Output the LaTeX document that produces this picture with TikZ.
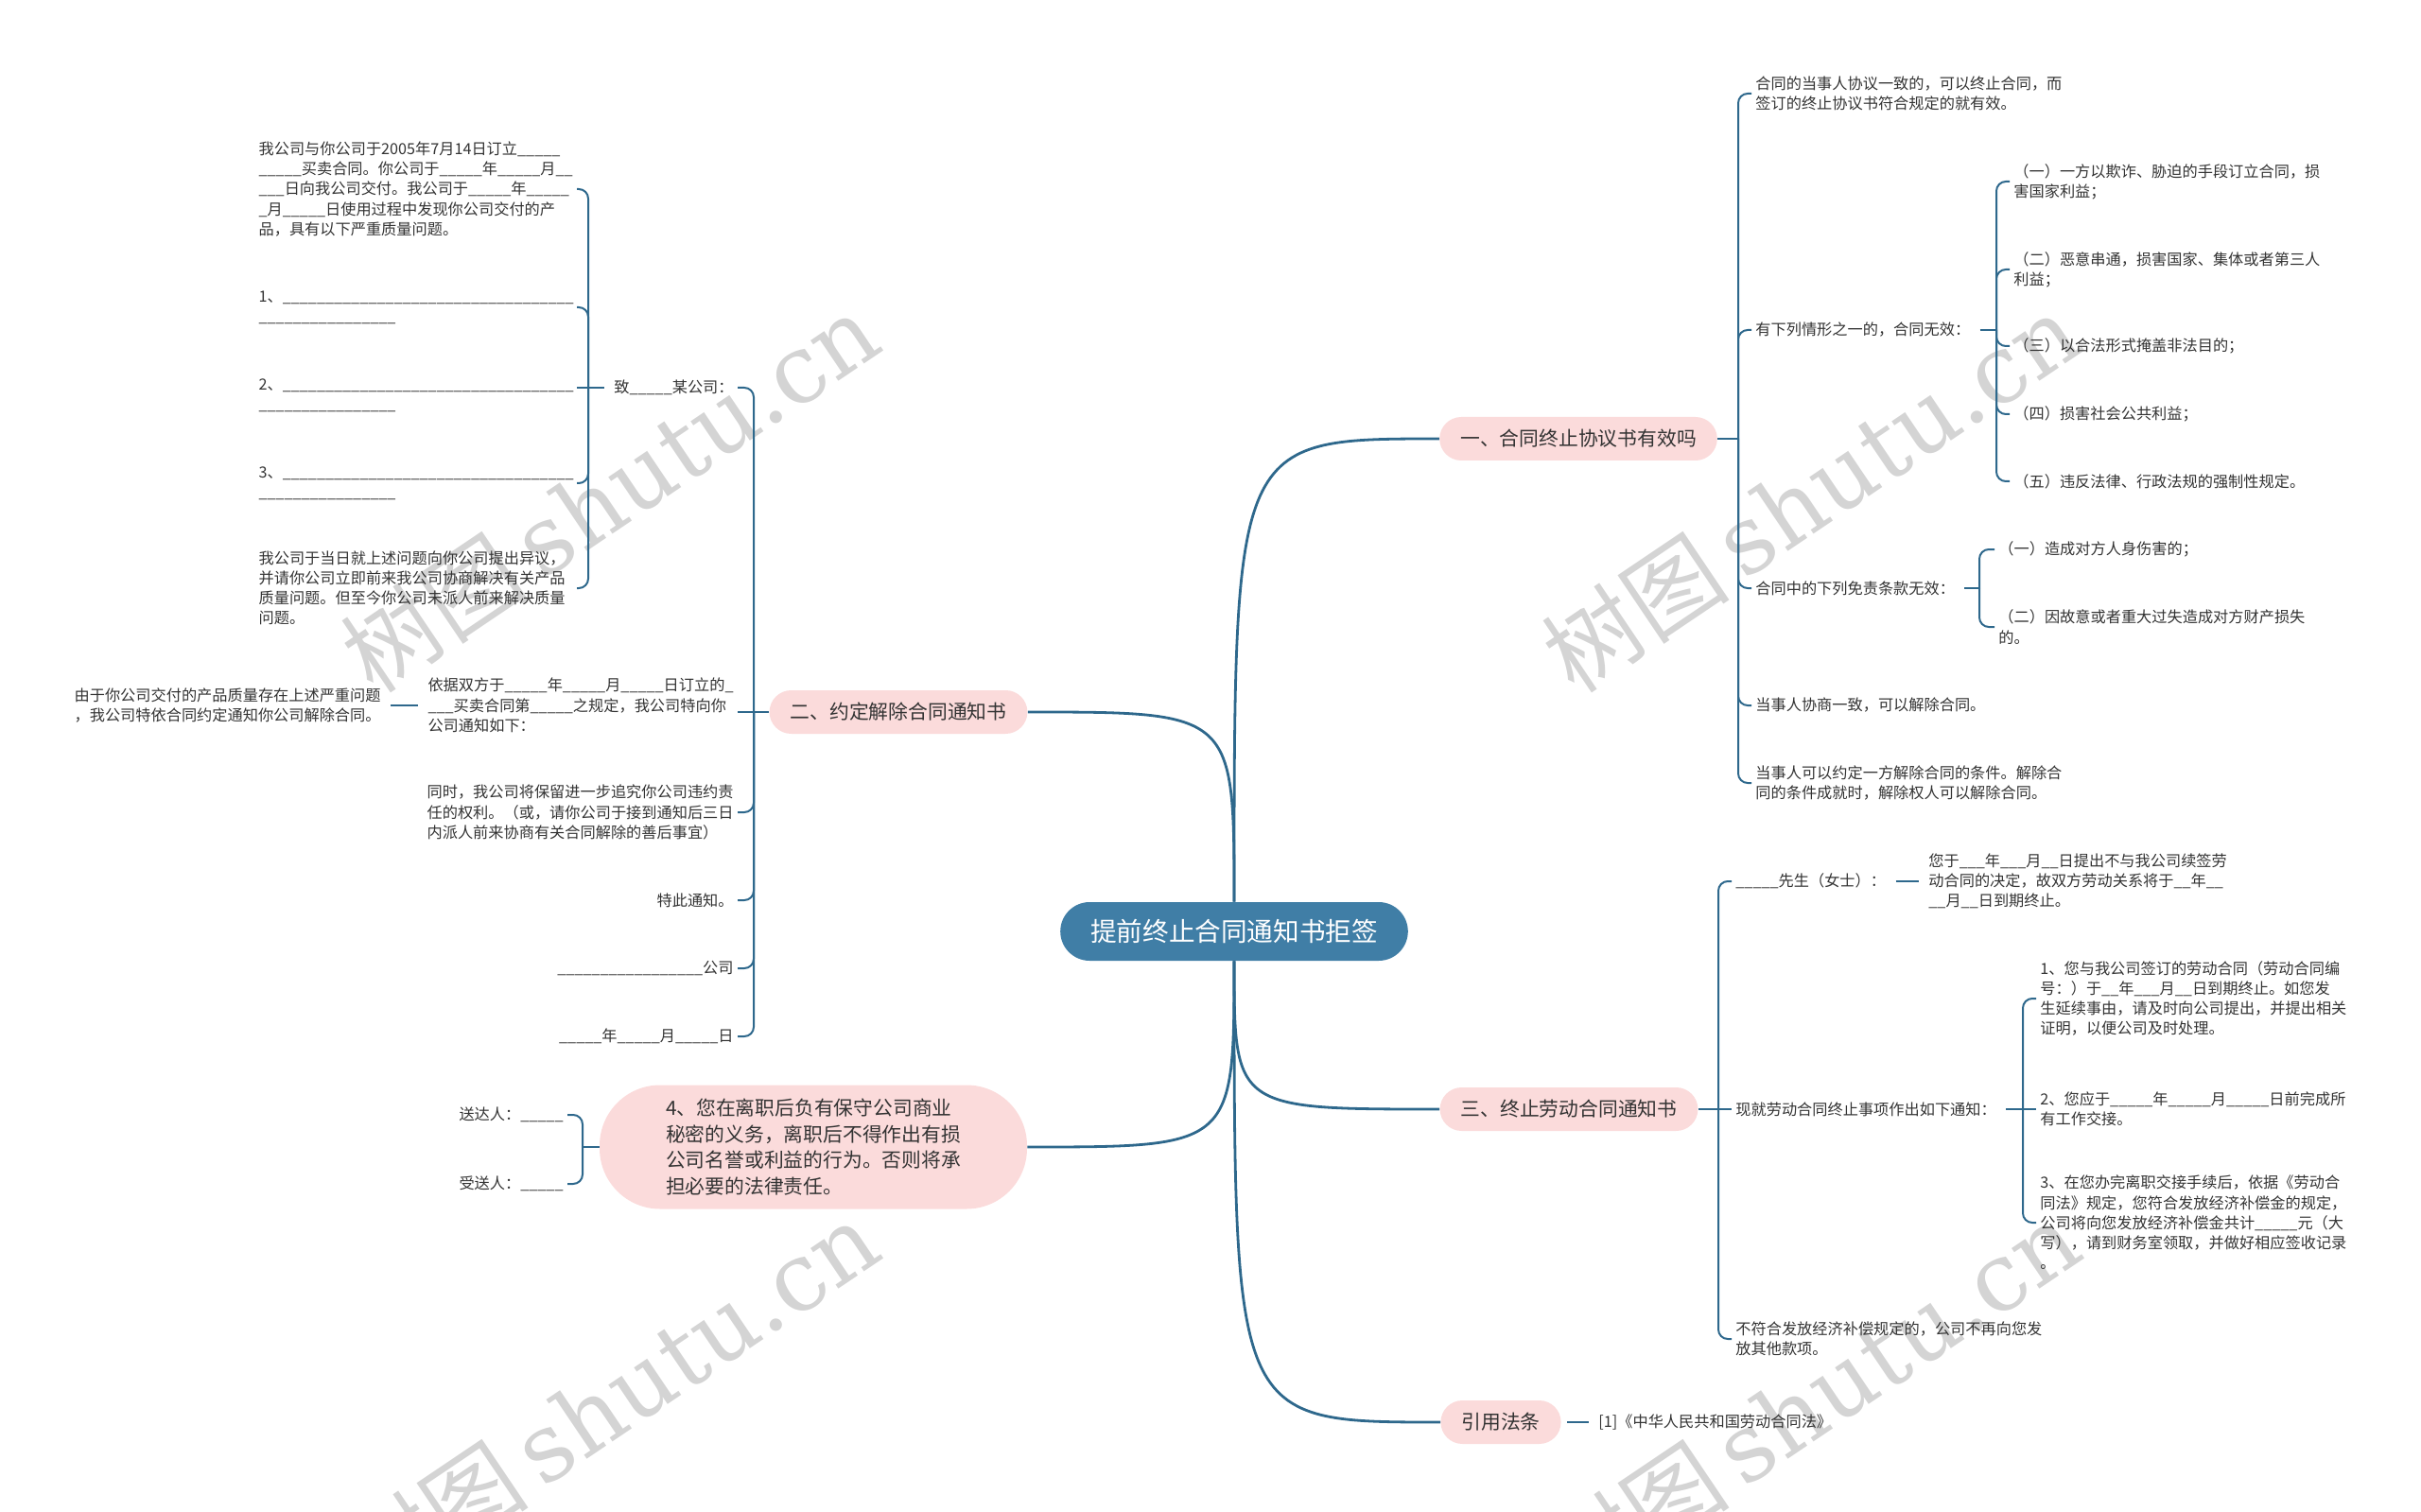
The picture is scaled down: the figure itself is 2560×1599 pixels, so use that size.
\documentclass[tikz,border=0pt]{standalone}
\usepackage{fontspec}
\setmainfont{Noto Sans CJK SC}
\newfontfamily\wmfont{DejaVu Serif}
\usetikzlibrary{calc}
\definecolor{linkblue}{RGB}{46,104,140}
\definecolor{rootblue}{RGB}{64,126,166}
\definecolor{pillpink}{RGB}{251,219,219}
\definecolor{inkgray}{RGB}{51,51,51}
\definecolor{wmgray}{RGB}{212,212,212}
\newcommand{\blank}[1]{\foreach \k in {1,...,#1}{\_}}
\tikzset{
    rootbox/.style={fill=rootblue, text=white, rounded corners=15.5pt, minimum height=31pt,
        inner xsep=16pt, font=\fontsize{13.8}{16}\selectfont},
    branchbox/.style={fill=pillpink, text=inkgray, rounded corners=11.5pt, minimum height=23pt,
        inner xsep=11pt, font=\fontsize{10.4}{13.9}\selectfont},
    leaf/.style={text=inkgray, inner sep=2pt, align=left, font=\fontsize{8.1}{10.6}\selectfont},
    trunk/.style={draw=linkblue, line width=1.4pt},
    brace/.style={draw=linkblue, line width=1pt, rounded corners=5pt},
    stub/.style={draw=linkblue, line width=1pt, shorten <=3pt, shorten >=3pt},
    watermark/.style={text=wmgray, rotate=34, font=\fontsize{50}{50}\selectfont}
}

\begin{document}
\begin{tikzpicture}[x=0.5pt,y=-0.5pt]
    \useasboundingbox (0,0) rectangle (2560,1599);
    % watermark
    \foreach \wx/\wy in {645/521, 1915/521, 645/1481, 1915/1481}
        \node[watermark] (wm-\wx-\wy) at (\wx,\wy) {树图\,{\wmfont shutu.cn}};

    % centre and main branches
    \node[rootbox] (root) at (1305,985) {提前终止合同通知书拒签};
    \node[branchbox] (agree) at (1669,464) {一、合同终止协议书有效吗};
    \node[branchbox] (cancel) at (950,753) {二、约定解除合同通知书};
    \node[branchbox, align=left, rounded corners=32pt, minimum height=65.5pt, inner xsep=35pt] (secret) at (860,1213)
        {4、您在离职后负有保守公司商业\\秘密的义务，离职后不得作出有损\\公司名誉或利益的行为。否则将承\\担必要的法律责任。};
    \node[branchbox] (labour) at (1659,1173) {三、终止劳动合同通知书};
    \node[branchbox] (law) at (1587,1504) {引用法条};

    \draw[trunk] (root.north) .. controls (root.north |- agree.west) .. (agree.west);
    \draw[trunk] (root.north) .. controls (root.north |- cancel.east) .. (cancel.east);
    \draw[trunk] (root.south) .. controls (root.south |- secret.east) .. (secret.east);
    \draw[trunk] (root.south) .. controls (root.south |- labour.west) .. (labour.west);
    \draw[trunk] (root.south) .. controls (root.south |- law.west) .. (law.west);

    % 一
    \node[leaf, anchor=west] (a1) at (1852,99) {合同的当事人协议一致的，可以终止合同，而\\签订的终止协议书符合规定的就有效。};
    \node[leaf, anchor=west] (a2) at (1852,349) {有下列情形之一的，合同无效：};
    \node[leaf, anchor=west] (a3) at (1852,622) {合同中的下列免责条款无效：};
    \node[leaf, anchor=west] (a4) at (1852,746) {当事人协商一致，可以解除合同。};
    \node[leaf, anchor=west] (a5) at (1852,828) {当事人可以约定一方解除合同的条件。解除合\\同的条件成就时，解除权人可以解除合同。};
    \coordinate (agreeS) at (1838,464);
    \draw[brace] (agree.east) -- (agreeS);
    \foreach \c in {a1,a2,a3,a4,a5}
        \draw[brace] (agreeS) |- (\c.west);

    \node[leaf, anchor=west] (a21) at (2125,192) {（一）一方以欺诈、胁迫的手段订立合同，损\\害国家利益；};
    \node[leaf, anchor=west] (a22) at (2125,285) {（二）恶意串通，损害国家、集体或者第三人\\利益；};
    \node[leaf, anchor=west] (a23) at (2125,366) {（三）以合法形式掩盖非法目的；};
    \node[leaf, anchor=west] (a24) at (2125,438) {（四）损害社会公共利益；};
    \node[leaf, anchor=west] (a25) at (2125,509) {（五）违反法律、行政法规的强制性规定。};
    \coordinate (a2S) at (2111,349);
    \draw[brace, shorten <=3pt] (a2.east) -- (a2S);
    \foreach \c in {a21,a22,a23,a24,a25}
        \draw[brace] (a2S) |- (\c.west);

    \node[leaf, anchor=west] (a31) at (2109,581) {（一）造成对方人身伤害的；};
    \node[leaf, anchor=west] (a32) at (2109,663) {（二）因故意或者重大过失造成对方财产损失\\的。};
    \coordinate (a3S) at (2093,622);
    \draw[brace, shorten <=3pt] (a3.east) -- (a3S);
    \foreach \c in {a31,a32}
        \draw[brace] (a3S) |- (\c.west);

    % 二
    \node[leaf, anchor=east] (c1) at (780,410) {致\blank{5}某公司：};
    \node[leaf, anchor=east] (c2) at (780,746) {依据双方于\blank{5}年\blank{5}月\blank{5}日订立的\_\\\blank{3}买卖合同第\blank{5}之规定，我公司特向你\\公司通知如下：};
    \node[leaf, anchor=east] (c3) at (780,859) {同时，我公司将保留进一步追究你公司违约责\\任的权利。（或，请你公司于接到通知后三日\\内派人前来协商有关合同解除的善后事宜）};
    \node[leaf, anchor=east] (c4) at (780,952) {特此通知。};
    \node[leaf, anchor=east] (c5) at (780,1024) {\blank{17}公司};
    \node[leaf, anchor=east] (c6) at (780,1096) {\blank{5}年\blank{5}月\blank{5}日};
    \coordinate (cancelS) at (797,753);
    \draw[brace] (cancel.west) -- (cancelS);
    \foreach \c in {c1,c3,c4,c5,c6}
        \draw[brace] (cancelS) |- (\c.east);
    \draw[brace] (cancelS) -- (cancelS -| c2.east);

    \node[leaf, anchor=east] (c21) at (407,746) {由于你公司交付的产品质量存在上述严重问题\\，我公司特依合同约定通知你公司解除合同。};
    \draw[stub] (c2.west) -- (c21.east);

    \node[leaf, anchor=east, text width=166pt] (t1) at (610,200) {我公司与你公司于2005年7月14日订立\blank{5}\\\blank{5}买卖合同。你公司于\blank{5}年\blank{5}月\blank{2}\\\blank{3}日向我公司交付。我公司于\blank{5}年\blank{5}\\\_月\blank{5}日使用过程中发现你公司交付的产\\品，具有以下严重质量问题。};
    \node[leaf, anchor=east, text width=166pt] (t2) at (610,325) {1、\blank{34}\\\blank{16}};
    \node[leaf, anchor=east, text width=166pt] (t3) at (610,418) {2、\blank{34}\\\blank{16}};
    \node[leaf, anchor=east, text width=166pt] (t4) at (610,511) {3、\blank{34}\\\blank{16}};
    \node[leaf, anchor=east, text width=166pt] (t5) at (610,622) {我公司于当日就上述问题向你公司提出异议，\\并请你公司立即前来我公司协商解决有关产品\\质量问题。但至今你公司未派人前来解决质量\\问题。};
    \coordinate (c1S) at (622,410);
    \draw[brace, shorten <=3pt] (c1.west) -- (c1S);
    \foreach \c in {t1,t2,t4,t5}
        \draw[brace] (c1S) |- (\c.east);
    \draw[brace] (c1S) -- (c1S -| t3.east);

    % 4
    \node[leaf, anchor=east] (d1) at (600,1179) {送达人：\blank{5}};
    \node[leaf, anchor=east] (d2) at (600,1252) {受送人：\blank{5}};
    \coordinate (secretS) at (616,1213);
    \draw[brace] (secret.west) -- (secretS);
    \foreach \c in {d1,d2}
        \draw[brace] (secretS) |- (\c.east);

    % 三
    \node[leaf, anchor=west] (l1) at (1831,932) {\blank{5}先生（女士）：};
    \node[leaf, anchor=west] (l2) at (1831,1173) {现就劳动合同终止事项作出如下通知：};
    \node[leaf, anchor=west] (l3) at (1831,1416) {不符合发放经济补偿规定的，公司不再向您发\\放其他款项。};
    \coordinate (labourS) at (1817,1173);
    \draw[brace] (labour.east) -- (labourS);
    \foreach \c in {l1,l3}
        \draw[brace] (labourS) |- (\c.west);
    \draw[brace] (labourS) -- (l2.west);

    \node[leaf, anchor=west] (l11) at (2035,932) {您于\blank{3}年\blank{3}月\blank{2}日提出不与我公司续签劳\\动合同的决定，故双方劳动关系将于\blank{2}年\blank{2}\\\blank{2}月\blank{2}日到期终止。};
    \draw[stub] (l1.east) -- (l11.west);

    \node[leaf, anchor=west] (l21) at (2153,1056) {1、您与我公司签订的劳动合同（劳动合同编\\号：）于\blank{2}年\blank{3}月\blank{2}日到期终止。如您发\\生延续事由，请及时向公司提出，并提出相关\\证明，以便公司及时处理。};
    \node[leaf, anchor=west] (l22) at (2153,1173) {2、您应于\blank{5}年\blank{5}月\blank{5}日前完成所\\有工作交接。};
    \node[leaf, anchor=west] (l23) at (2153,1293) {3、在您办完离职交接手续后，依据《劳动合\\同法》规定，您符合发放经济补偿金的规定，\\公司将向您发放经济补偿金共计\blank{5}元（大\\写），请到财务室领取，并做好相应签收记录\\。};
    \coordinate (l2S) at (2139,1173);
    \draw[brace, shorten <=3pt] (l2.east) -- (l2S);
    \foreach \c in {l21,l23}
        \draw[brace] (l2S) |- (\c.west);
    \draw[brace] (l2S) -- (l22.west);

    % 引用法条
    \node[leaf, anchor=west] (lawref) at (1686,1504) {[1]《中华人民共和国劳动合同法》};
    \draw[stub] (law.east) -- (lawref.west);
\end{tikzpicture}
\end{document}
